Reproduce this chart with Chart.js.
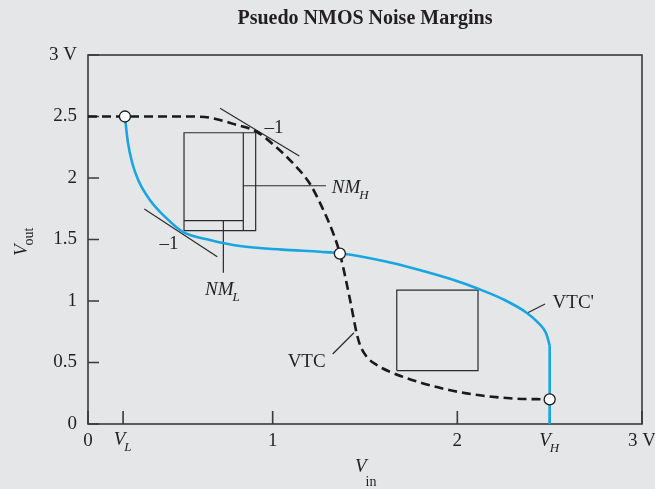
<!DOCTYPE html>
<html>
<head>
<meta charset="utf-8">
<script src="https://cdn.jsdelivr.net/npm/chart.js@4/dist/chart.umd.min.js"></script>
<style>
  html, body { margin: 0; padding: 0; background: #e5e6e8; }
  #wrap { width: 655px; height: 489px; }
</style>
</head>
<body>
<div id="wrap"><canvas id="chart" width="655" height="489"></canvas></div>
<script>
// tick values and labels
const xTicks = [0, 0.19, 1, 2, 2.5, 3];
const xTickLabels = ['0', '', '1', '2', '', '3 V'];
const yTicks = [0, 0.5, 1, 1.5, 2, 2.5, 3];
const yTickLabels = ['0', '0.5', '1', '1.5', '2', '2.5', '3 V'];

// VTC (dashed, black)
const vtcX = [0, 0.3, 0.55, 0.66, 0.787, 0.913, 1.02, 1.11, 1.2, 1.266, 1.328, 1.364, 1.419, 1.455, 1.473, 1.509, 1.563, 1.635, 1.815, 2.05, 2.285, 2.5];
const vtcY = [2.5, 2.5, 2.5, 2.49, 2.44, 2.376, 2.25, 2.12, 1.957, 1.767, 1.55, 1.385, 1.01, 0.737, 0.642, 0.547, 0.48, 0.425, 0.33, 0.249, 0.209, 0.2];

// VTC' (blue)
const vtcpX = [0.2, 0.215, 0.24, 0.273, 0.336, 0.426, 0.516, 0.66, 0.823, 1.05, 1.256, 1.364, 1.6, 1.78, 1.96, 2.12, 2.249, 2.375, 2.44, 2.48, 2.5];
const vtcpY = [2.5, 2.3, 2.12, 1.98, 1.82, 1.672, 1.56, 1.496, 1.447, 1.418, 1.40, 1.388, 1.325, 1.258, 1.18, 1.095, 1.013, 0.905, 0.82, 0.74, 0.64];
const vtcpTailX = [2.5, 2.5];
const vtcpTailY = [0.64, 0];

// marked points
const markX = [0.2, 1.364, 2.5];
const markY = [2.5, 1.385, 0.2];

// construction lines (rectangles, tangents, pointers), in volts
const guides = [
  [[0.520, 1.572], [0.520, 2.368], [0.908, 2.368], [0.908, 1.572], [0.520, 1.572]],
  [[0.841, 2.368], [0.841, 1.572]],
  [[0.520, 1.653], [0.841, 1.653]],
  [[0.841, 1.937], [1.289, 1.937]],
  [[0.733, 1.653], [0.733, 1.23]],
  [[0.715, 2.567], [1.144, 2.179]],
  [[0.305, 1.748], [0.700, 1.360]],
  [[1.672, 0.434], [1.672, 1.089], [2.112, 1.089], [2.112, 0.434], [1.672, 0.434]],
  [[1.325, 0.569], [1.440, 0.742]],
  [[2.376, 0.900], [2.475, 0.976]]
];

// text notes: [x, y, main, sub, italic, align]
const notes = [
  [1.007, 2.41, '–1', '', false, 'center'],
  [0.439, 1.463, '–1', '', false, 'center'],
  [1.32, 1.878, 'NM', 'H', true, 'left'],
  [0.634, 1.049, 'NM', 'L', true, 'left'],
  [1.184, 0.508, 'VTC', '', false, 'center'],
  [2.516, 0.98, "VTC'", '', false, 'left']
];

const serif = '"Liberation Serif", "Times New Roman", serif';
const ink = '#231f20';

const toPts = (xs, ys) => xs.map((x, i) => ({ x: x, y: ys[i] }));

const datasets = [
  {
    data: toPts(vtcpX, vtcpY), borderColor: '#17a6e2', borderWidth: 2.6,
    showLine: true, pointRadius: 0, cubicInterpolationMode: 'monotone', order: 2
  },
  {
    data: toPts(vtcpTailX, vtcpTailY), borderColor: '#17a6e2', borderWidth: 2.6,
    showLine: true, pointRadius: 0, order: 2
  },
  {
    data: toPts(vtcX, vtcY), borderColor: '#1a1a1a', borderWidth: 2.6, borderDash: [9, 5],
    showLine: true, pointRadius: 0, cubicInterpolationMode: 'monotone', order: 2
  }
];
guides.forEach(g => {
  datasets.push({
    data: g.map(p => ({ x: p[0], y: p[1] })), borderColor: '#2b2b2b', borderWidth: 1.2,
    showLine: true, pointRadius: 0, order: 3
  });
});
datasets.push({
  data: toPts(markX, markY), showLine: false, pointRadius: 5.5, pointStyle: 'circle',
  pointBackgroundColor: '#ffffff', pointBorderColor: '#1a1a1a', pointBorderWidth: 1.3, order: 0
});

function subText(ctx, x, y, main, sub, italic, align, size) {
  ctx.font = (italic ? 'italic ' : '') + size + 'px ' + serif;
  const w1 = ctx.measureText(main).width;
  let w2 = 0;
  if (sub) {
    ctx.font = (italic ? 'italic ' : '') + Math.round(size * 0.7) + 'px ' + serif;
    w2 = ctx.measureText(sub).width;
  }
  let left = x;
  if (align === 'center') left = x - (w1 + w2) / 2;
  ctx.textAlign = 'left';
  ctx.textBaseline = 'alphabetic';
  ctx.font = (italic ? 'italic ' : '') + size + 'px ' + serif;
  ctx.fillText(main, left, y);
  if (sub) {
    ctx.font = (italic ? 'italic ' : '') + Math.round(size * 0.7) + 'px ' + serif;
    ctx.fillText(sub, left + w1 - 1, y + 6);
  }
}

const decor = {
  id: 'decor',
  beforeDraw(chart) {
    const ctx = chart.ctx;
    ctx.save();
    ctx.fillStyle = '#e5e6e8';
    ctx.fillRect(0, 0, chart.width, chart.height);
    ctx.restore();
  },
  beforeDatasetsDraw(chart) {
    const ctx = chart.ctx, a = chart.chartArea;
    const xs = chart.scales.x, ys = chart.scales.y;
    ctx.save();
    ctx.strokeStyle = '#3a3a3a';
    ctx.lineWidth = 1.6;
    ctx.strokeRect(a.left, a.top, a.right - a.left, a.bottom - a.top);
    ctx.beginPath();
    xTicks.forEach(v => {
      const px = xs.getPixelForValue(v);
      ctx.moveTo(px, a.bottom);
      ctx.lineTo(px, a.bottom - 13);
    });
    yTicks.forEach(v => {
      const py = ys.getPixelForValue(v);
      ctx.moveTo(a.left, py);
      ctx.lineTo(a.left + 11, py);
    });
    ctx.stroke();
    ctx.restore();
  },
  afterDraw(chart) {
    const ctx = chart.ctx, a = chart.chartArea;
    const xs = chart.scales.x, ys = chart.scales.y;
    ctx.save();
    ctx.fillStyle = ink;
    notes.forEach(n => {
      const px = xs.getPixelForValue(n[0]);
      const py = ys.getPixelForValue(n[1]);
      if (n[3]) {
        subText(ctx, px, py, n[2], n[3], n[4], n[5], 19);
      } else {
        ctx.font = '19px ' + serif;
        ctx.textAlign = n[5];
        ctx.textBaseline = 'middle';
        ctx.fillText(n[2], px, py);
      }
    });
    // V_L and V_H tick labels
    subText(ctx, xs.getPixelForValue(xTicks[1]), 445, 'V', 'L', true, 'center', 19);
    subText(ctx, xs.getPixelForValue(xTicks[4]), 446, 'V', 'H', true, 'center', 19);
    // axis titles
    const cx = (a.left + a.right) / 2;
    ctx.font = 'italic 19px ' + serif;
    const wv = ctx.measureText('V').width;
    ctx.textAlign = 'left';
    ctx.textBaseline = 'alphabetic';
    ctx.fillText('V', cx - 10, 472);
    ctx.font = '14px ' + serif;
    ctx.fillText('in', cx - 10 + wv - 1, 486);
    ctx.translate(27, 256);
    ctx.rotate(-Math.PI / 2);
    ctx.font = 'italic 19px ' + serif;
    ctx.fillText('V', 0, 0);
    ctx.font = '14px ' + serif;
    ctx.fillText('out', wv - 1, 6);
    ctx.restore();
  }
};

new Chart(document.getElementById('chart'), {
  type: 'scatter',
  data: { datasets: datasets },
  options: {
    responsive: false,
    animation: false,
    layout: { padding: { left: 0, right: 13, top: 0, bottom: 0 } },
    plugins: {
      legend: { display: false },
      tooltip: { enabled: false },
      title: {
        display: true,
        text: 'Psuedo NMOS Noise Margins',
        fullSize: false,
        color: ink,
        font: { family: serif, size: 20, weight: 'bold' },
        padding: { top: 7, bottom: 24 }
      }
    },
    scales: {
      x: {
        type: 'linear', min: 0, max: 3,
        grid: { display: false, drawTicks: false },
        border: { display: false },
        afterBuildTicks: s => { s.ticks = xTicks.map(v => ({ value: v })); },
        afterFit: s => { s.height = 65; s.paddingLeft = 0; s.paddingRight = 0; },
        ticks: {
          autoSkip: false, maxRotation: 0, minRotation: 0, padding: 6,
          color: ink, font: { family: serif, size: 19 },
          callback: v => xTickLabels[xTicks.indexOf(v)]
        }
      },
      y: {
        type: 'linear', min: 0, max: 3,
        grid: { display: false, drawTicks: false },
        border: { display: false },
        afterBuildTicks: s => { s.ticks = yTicks.map(v => ({ value: v })); },
        afterFit: s => { s.width = 88; },
        ticks: {
          autoSkip: false, padding: 11,
          color: ink, font: { family: serif, size: 19 },
          callback: v => yTickLabels[yTicks.indexOf(v)]
        }
      }
    }
  },
  plugins: [decor]
});
</script>
</body>
</html>
